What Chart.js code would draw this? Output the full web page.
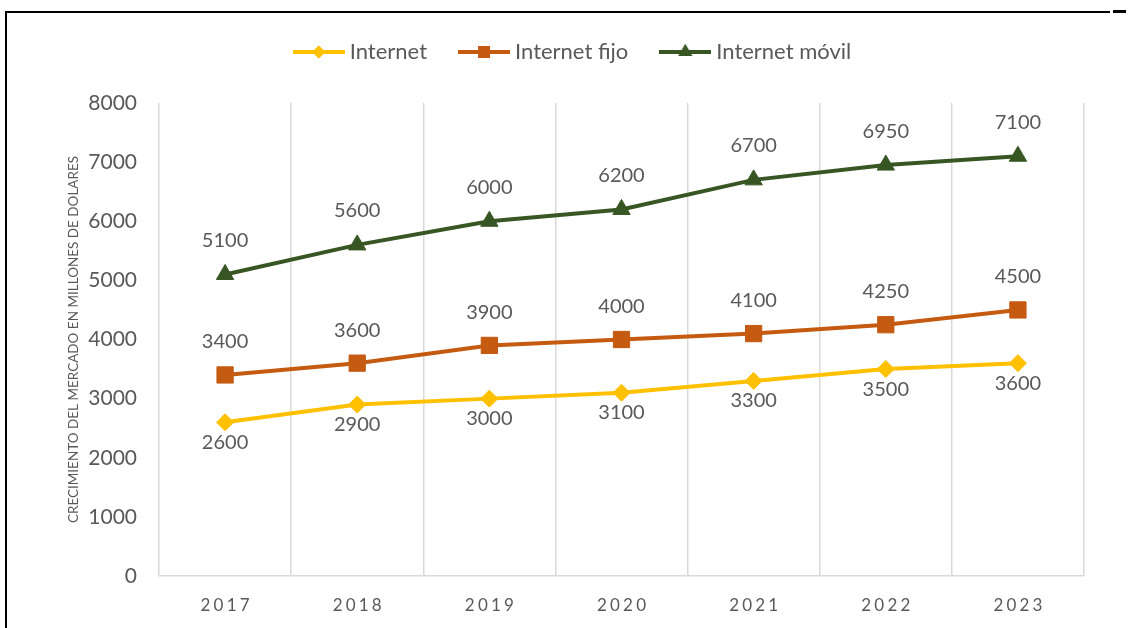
<!DOCTYPE html>
<html>
<head>
<meta charset="utf-8">
<script src="https://cdn.jsdelivr.net/npm/chart.js@4.4.1/dist/chart.umd.min.js"></script>
<style>
  html, body { margin: 0; padding: 0; background: #fff; }
  #wrap { position: relative; width: 1132px; height: 628px; overflow: hidden; }
  #myChart { position: absolute; left: 0; top: 0; }
  .frameLeft { position: absolute; left: 5px; top: 11px; width: 2px; height: 640px; background: #000; }
  .frameTop { position: absolute; left: 5px; top: 11px; width: 1105px; height: 2px; background: #000; }
  .frameTick { position: absolute; left: 1113px; top: 10px; width: 13px; height: 3px; background: #000; }
</style>
</head>
<body>
<div id="wrap">
  <canvas id="myChart" width="1132" height="628"></canvas>
  <div class="frameLeft"></div>
  <div class="frameTop"></div>
  <div class="frameTick"></div>
</div>
<script>
  // data
  var years = ["2017", "2018", "2019", "2020", "2021", "2022", "2023"];
  var internet = [2600, 2900, 3000, 3100, 3300, 3500, 3600];
  var internetFijo = [3400, 3600, 3900, 4000, 4100, 4250, 4500];
  var internetMovil = [5100, 5600, 6000, 6200, 6700, 6950, 7100];
  var seriesNames = ["Internet", "Internet fijo", "Internet móvil"];
  var yMin = 0, yMax = 8000, yStep = 1000;
  var yTitle = "CRECIMIENTO DEL MERCADO EN MILLONES DE DOLARES";

  var grey = "#595959";
  var FONT = "Lato";

  // little line+marker picture for the legend
  function legendIcon(color, style, radius) {
    var c = document.createElement("canvas");
    c.width = 52;
    c.height = 22;
    var g = c.getContext("2d");
    g.strokeStyle = color;
    g.lineWidth = 4;
    g.beginPath();
    g.moveTo(0, 11);
    g.lineTo(52, 11);
    g.stroke();
    g.fillStyle = color;
    Chart.helpers.drawPoint(g, {pointStyle: style, radius: radius, borderWidth: 0, rotation: 0}, 26, 11);
    g.fill();
    return c;
  }

  // draws the value next to each point
  var valueLabels = {
    id: "valueLabels",
    afterDatasetsDraw: function(chart) {
      var ctx = chart.ctx;
      ctx.save();
      ctx.font = "20px " + FONT;
      ctx.fillStyle = grey;
      ctx.textAlign = "center";
      ctx.textBaseline = "middle";
      chart.data.datasets.forEach(function(ds, i) {
        var meta = chart.getDatasetMeta(i);
        meta.data.forEach(function(pt, j) {
          ctx.fillText(String(ds.data[j]), pt.x, pt.y + ds.labelOffset);
        });
      });
      ctx.restore();
    }
  };

  // fixed legend height so the plot starts where it should
  var legendHeight = {
    id: "legendHeight",
    afterInit: function(chart) {
      var fit = chart.legend.fit;
      chart.legend.fit = function() {
        fit.call(this);
        this.height = 99;
      };
    }
  };

  var ctx = document.getElementById("myChart").getContext("2d");
  var chart = new Chart(ctx, {
    type: "line",
    data: {
      labels: years,
      datasets: [
        {
          label: seriesNames[0],
          data: internet,
          borderColor: "#FFC000",
          backgroundColor: "#FFC000",
          borderWidth: 4,
          pointStyle: "rectRot",
          pointRadius: 8.5,
          pointBorderWidth: 1,
          labelOffset: 20,
          icon: legendIcon("#FFC000", "rectRot", 6.5)
        },
        {
          label: seriesNames[1],
          data: internetFijo,
          borderColor: "#C55A11",
          backgroundColor: "#C55A11",
          borderWidth: 4,
          pointStyle: "rect",
          pointRadius: 11.5,
          pointBorderWidth: 1,
          labelOffset: -33,
          icon: legendIcon("#C55A11", "rect", 8.5)
        },
        {
          label: seriesNames[2],
          data: internetMovil,
          borderColor: "#375623",
          backgroundColor: "#375623",
          borderWidth: 4,
          pointStyle: "triangle",
          pointRadius: 10,
          pointBorderWidth: 1,
          labelOffset: -34,
          icon: legendIcon("#375623", "triangle", 8)
        }
      ]
    },
    options: {
      responsive: false,
      animation: false,
      layout: { padding: { top: 4, left: 66, right: 48, bottom: 0 } },
      plugins: {
        tooltip: { enabled: false },
        legend: {
          position: "top",
          labels: {
            usePointStyle: true,
            pointStyleWidth: 40,
            padding: 37,
            color: grey,
            font: { family: FONT, size: 22 },
            generateLabels: function(chart) {
              var items = Chart.defaults.plugins.legend.labels.generateLabels(chart);
              items.forEach(function(item) {
                item.pointStyle = chart.data.datasets[item.datasetIndex].icon;
              });
              return items;
            }
          }
        }
      },
      scales: {
        x: {
          offset: true,
          grid: { display: true, offset: true, color: "#d9d9d9", lineWidth: 1.5, drawTicks: false },
          border: { display: true, color: "#d9d9d9", width: 1.5 },
          ticks: {
            color: grey,
            padding: 19,
            font: { family: FONT, size: 17 },
            callback: function(value) {
              return this.getLabelForValue(value).split("").join("\u2009\u200A");
            }
          },
          afterFit: function(scale) { scale.height = 52; }
        },
        y: {
          min: yMin,
          max: yMax,
          grid: { display: false, drawTicks: false },
          border: { display: false },
          ticks: {
            stepSize: yStep,
            color: grey,
            padding: 22,
            font: { family: FONT, size: 21 },
            callback: function(value) { return String(value); }
          },
          title: {
            display: true,
            text: yTitle,
            color: grey,
            padding: 0,
            font: { family: FONT, size: 13.5 }
          },
          afterFit: function(scale) { scale.width = 93; }
        }
      }
    },
    plugins: [legendHeight, valueLabels]
  });
</script>
</body>
</html>
